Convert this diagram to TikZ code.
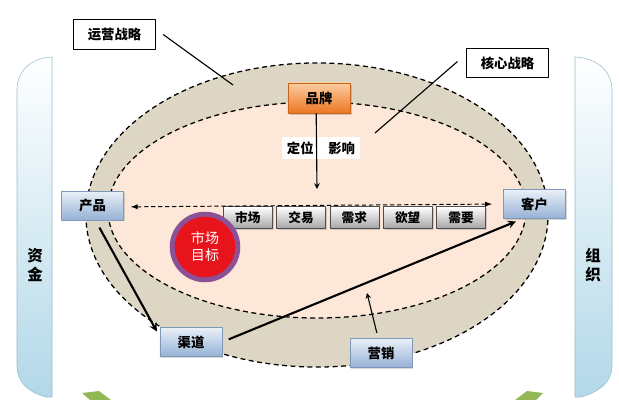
\documentclass[tikz,border=0pt]{standalone}
\usepackage{fontspec}
\newfontfamily\cjk{Noto Sans CJK SC}
\usetikzlibrary{shadows}
\definecolor{ringbg}{RGB}{221,214,196}
\definecolor{corebg}{RGB}{252,231,216}
\definecolor{barblue}{RGB}{178,216,232}
\definecolor{barline}{RGB}{150,190,208}
\definecolor{boxblue}{RGB}{150,178,214}
\definecolor{boxline}{RGB}{128,152,184}
\definecolor{orangetop}{RGB}{252,205,160}
\definecolor{orangebot}{RGB}{236,118,36}
\definecolor{targetred}{RGB}{232,20,28}
\definecolor{targetring}{RGB}{140,80,150}
\definecolor{leafgreen}{RGB}{146,184,86}
\begin{document}
\begin{tikzpicture}[x=0.025cm, y=-0.025cm, font=\cjk\bfseries\fontsize{9.5}{11}\selectfont, line join=round, >=stealth,
	bluebox/.style={draw=boxline, top color=white!80!boxblue, bottom color=boxblue, minimum width=1.55cm, minimum height=0.72cm, drop shadow={opacity=0.3, shadow xshift=1pt, shadow yshift=-1pt}},
	graybox/.style={draw=black!70, top color=white, bottom color=black!35, minimum width=1.225cm, minimum height=0.54cm, font=\cjk\bfseries\fontsize{9}{10}\selectfont, drop shadow={opacity=0.3, shadow xshift=1pt, shadow yshift=-1pt}},
	labelbox/.style={draw=black, line width=0.9pt, fill=white, minimum height=0.74cm, minimum width=2.05cm},
	ringline/.style={dashed, dash pattern=on 3.5pt off 2.5pt, line width=0.9pt},
	bar/.style={draw=barline, top color=white, bottom color=barblue}]
	\useasboundingbox (0,0) rectangle (619,400);
	% side bars
	\draw[bar] (52,57) -- (52,397) -- (46,397) .. controls (28,392) and (17,382) .. (17,366) -- (17,90) .. controls (17,72) and (30,58) .. (52,57) -- cycle;
	\draw[bar] (575,57) -- (575,397) -- (581,397) .. controls (599,392) and (612,382) .. (612,366) -- (612,90) .. controls (612,72) and (598,58) .. (575,57) -- cycle;
	\node (zijin) at (35,265) [align=center, font=\cjk\bfseries\fontsize{11}{13.5}\selectfont] {资\\金};
	\node (zuzhi) at (593,265) [align=center, font=\cjk\bfseries\fontsize{11}{13.5}\selectfont] {组\\织};
	% green arrow ends
	\fill[leafgreen] (82,393) -- (99,391) -- (111,400) -- (90,400) -- cycle;
	\fill[leafgreen] (543,393) -- (527,391) -- (515,400) -- (536,400) -- cycle;
	% ellipses
	\draw[ringline, fill=ringbg] (317,215) ellipse [x radius=5.775cm, y radius=3.8cm];
	\draw[ringline, fill=corebg] (317,210) ellipse [x radius=5.225cm, y radius=2.7cm];
	% labels
	\node[labelbox] (yunying) at (114.5,34.5) {运营战略};
	\node[labelbox] (hexin) at (507.5,63) {核心战略};
	\coordinate (ring) at (233,85);
	\coordinate (core) at (375,133);
	\draw[line width=0.8pt] ([xshift=5pt]yunying.east) -- (ring);
	\draw[line width=0.8pt] ([xshift=-6pt,yshift=1pt]hexin.west) -- (core);
	% brand
	\node (pinpai) at (319,98) [draw=orangebot!85!black, top color=orangetop, bottom color=orangebot, minimum width=1.55cm, minimum height=0.75cm, drop shadow={opacity=0.35, shadow xshift=1.2pt, shadow yshift=-1.2pt}] {品牌};
	\node (dingwei) at (321,148) [fill=white, minimum width=1.95cm, minimum height=0.5cm] {定位\hspace{1.1em}影响};
	\coordinate (pp) at (317,189);
	\draw[->, line width=0.8pt] ([xshift=-2pt]pinpai.south) -- (pp);
	% chain
	\foreach \t [count=\i] in {市场,交易,需求,欲望,需要}
		\node[graybox] (g\i) at (194.5+53.3*\i,217.5) {\t};
	\node[bluebox] (chanpin) at (92.5,205.5) {产品};
	\node[bluebox] (kehu) at (534.5,204) {客户};
	\node[bluebox] (qudao) at (191,342) {渠道};
	\node[bluebox] (yingxiao) at (381,353) {营销};
	\draw[<->, >=latex, dashed, dash pattern=on 3pt off 2pt, line width=0.7pt, shorten <=5pt, shorten >=8pt] ([yshift=-1pt]chanpin.east) -- (kehu.west);
	% target
	\node (mubiao) at (205,247) [circle, fill=targetred, draw=targetring, line width=3.5pt, minimum size=1.64cm, align=center, text=white, font=\cjk\fontsize{10}{12}\selectfont] {市场\\目标};
	% flows
	\draw[->, line width=1.5pt, shorten <=6pt] ([xshift=2pt]chanpin.south) -- ([xshift=-2pt,yshift=-3pt]qudao.north west);
	\draw[->, line width=1.5pt, shorten <=5pt] (qudao.east) -- ([xshift=9pt,yshift=-2pt]kehu.south west);
	\coordinate (mk) at (367,293);
	\draw[->, line width=0.8pt, shorten <=4pt] ([xshift=-2pt]yingxiao.north) -- (mk);
\end{tikzpicture}
\end{document}
